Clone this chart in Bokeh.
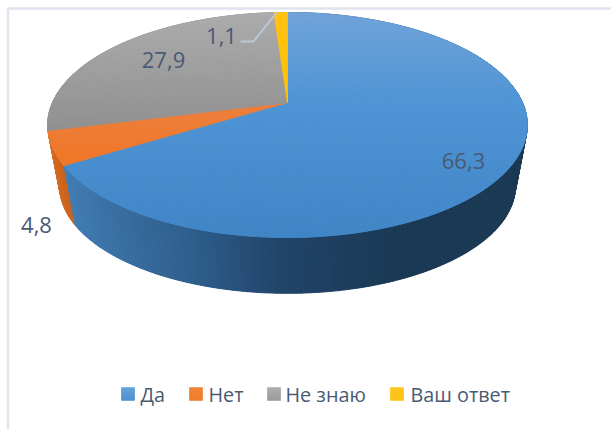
import numpy as np
from bokeh.plotting import figure
from bokeh.models import Range1d
from bokeh.core.properties import value
from bokeh.embed import file_html
from bokeh.resources import INLINE

categories = ["Да", "Нет", "Не знаю", "Ваш ответ"]
values = [66.3, 4.8, 27.9, 1.1]
value_labels = ["66,3", "4,8", "27,9", "1,1"]

W, H = 611, 429
FONT = value("Open Sans")
TXT = "#4a5a72"

# pie layout: a perspective projection of a disc
CX, CY, RX, RY, K = 287.0, 102.0, 235.0, 108.0, 0.2
ELL_CY, S, BOT_CY = 124.5, 0.95, 186.0


def top(theta, r=1.0):
    u, v = r * np.sin(theta), r * np.cos(theta)
    w = 1 + K * v
    return CX + RX * u / w, CY - RY * v / w


def bottom(theta):
    x, y = top(theta)
    return CX + (x - CX) * S, BOT_CY + (y - ELL_CY) * S


def lerp_stops(t, stops):
    xs = [s[0] for s in stops]
    return tuple(int(round(float(np.interp(t, xs, [s[1][i] for s in stops])))) for i in range(3))


def hexc(c):
    return "#%02x%02x%02x" % c


# gradient stops per slice, by screen y
TOP_STOPS = [
    [(12, (112, 163, 216)), (102, (80, 149, 214)), (237, (64, 133, 198))],
    [(102, (236, 128, 62)), (170, (240, 118, 36))],
    [(12, (172, 172, 172)), (135, (143, 143, 143))],
    [(12, (255, 194, 20)), (102, (255, 192, 0))],
]
BASE = ["#4f90d0", "#ee7a30", "#9c9c9c", "#ffc000"]
SIDE_BASE = ["#2c5c88", "#c9621c", "#828282", "#be9100"]
SIDE_STOPS = [
    [(64, (66, 125, 180)), (120, (57, 110, 160)), (200, (45, 92, 137)), (280, (33, 68, 105)),
     (400, (27, 57, 84)), (530, (29, 58, 84))],
    [(47, (214, 108, 34)), (70, (197, 94, 24))],
    [(0, (130, 130, 130)), (611, (130, 130, 130))],
    [(0, (190, 145, 0)), (611, (190, 145, 0))],
]
LEGEND_STOPS = [
    [(0, (88, 155, 215)), (1, (70, 138, 205))],
    [(0, (240, 125, 45)), (1, (238, 115, 30))],
    [(0, (168, 168, 168)), (1, (148, 148, 148))],
    [(0, (255, 194, 20)), (1, (255, 190, 0))],
]

fracs = np.array(values) / sum(values)
edges = np.concatenate([[0], np.cumsum(fracs)]) * 2 * np.pi

p = figure(width=W, height=H, x_range=Range1d(0, W), y_range=Range1d(H, 0),
           output_backend="svg", toolbar_location=None, min_border=0,
           x_axis_location=None, y_axis_location=None)
p.grid.visible = False
p.outline_line_color = None
p.background_fill_color = "white"
p.border_fill_color = "white"

# chart frame
p.line([7.5, 7.5, W], [H, 8, 8], line_color="#e0e4ee", line_width=2.4)

# side wall: back to front, with a solid base under the shaded strips
sx, sy, sc, order = [], [], [], []
for i in range(len(values)):
    n = max(2, int((edges[i + 1] - edges[i]) / np.radians(1)))
    th = np.linspace(edges[i], edges[i + 1], n + 1)
    tx, ty = top(th)
    bx, by = bottom(th[::-1])
    order.append((float(np.mean(ty)), i, list(tx) + list(bx), list(ty) + list(by)))
order.sort()
p.patches([o[2] for o in order], [o[3] for o in order],
          fill_color=[SIDE_BASE[o[1]] for o in order], line_color=None)

side = []
for i in range(len(values)):
    n = max(2, int((edges[i + 1] - edges[i]) / np.radians(1)))
    th = np.linspace(edges[i], edges[i + 1], n + 1)
    for a, b in zip(th[:-1], th[1:]):
        xa, ya = top(a); xb, yb = top(b)
        xc, yc = bottom(b); xd, yd = bottom(a)
        col = hexc(lerp_stops((xa + xb) / 2, SIDE_STOPS[i]))
        side.append((ya + yb, [xa, xb, xc, xd], [ya, yb, yc, yd], col))
side.sort(key=lambda q: q[0])
p.patches([q[1] for q in side], [q[2] for q in side], fill_color=[q[3] for q in side],
          line_color=[q[3] for q in side], line_width=0.8)

# top face: solid base of each slice, then the shaded cells
bx, by = [], []
for i in range(len(values)):
    th = np.linspace(edges[i], edges[i + 1], max(2, int((edges[i + 1] - edges[i]) / np.radians(1))) + 1)
    tx, ty = top(th)
    bx.append([CX] + list(tx)); by.append([CY] + list(ty))
p.patches(bx, by, fill_color=BASE, line_color=BASE, line_width=0.5)

xs, ys, cs = [], [], []
rs = np.linspace(0, 1, 29)
for i in range(len(values)):
    n = max(2, int((edges[i + 1] - edges[i]) / np.radians(2)))
    th = np.linspace(edges[i], edges[i + 1], n + 1)
    for a, b in zip(th[:-1], th[1:]):
        for r0, r1 in zip(rs[:-1], rs[1:]):
            x1, y1 = top(a, r0); x2, y2 = top(a, r1)
            x3, y3 = top(b, r1); x4, y4 = top(b, r0)
            xs.append([x1, x2, x3, x4]); ys.append([y1, y2, y3, y4])
            cs.append(hexc(lerp_stops((y1 + y2 + y3 + y4) / 4, TOP_STOPS[i])))
p.patches(xs, ys, fill_color=cs, line_color=cs, line_width=0.8)

# leader line of the smallest slice
p.line([240, 253, 277], [41, 41, 11], line_color="#bcc8d8", line_width=2)

# value labels
lab_x = [463, 36, 163, 221]
lab_y = [160, 224, 59, 35]
p.text(lab_x, lab_y, text=value_labels, text_font=FONT, text_font_size="22px",
       text_color=TXT, text_align="center", text_baseline="middle")

# legend
box_x = [121, 189, 267, 390]
txt_x = [140, 208, 285, 410]
BOX = 13
for i, name in enumerate(categories):
    rows = np.arange(387, 387 + BOX)
    colors = [hexc(lerp_stops((r - 387) / BOX, LEGEND_STOPS[i])) for r in rows]
    p.quad(left=box_x[i], right=box_x[i] + BOX, top=rows, bottom=rows + 1,
           fill_color=colors, line_color=colors, line_width=0.5)
p.text(txt_x, [394] * 4, text=categories, text_font=FONT, text_font_size="19.8px",
       text_color=TXT, text_align="left", text_baseline="middle")

open("out.html", "w").write(file_html(p, INLINE))
